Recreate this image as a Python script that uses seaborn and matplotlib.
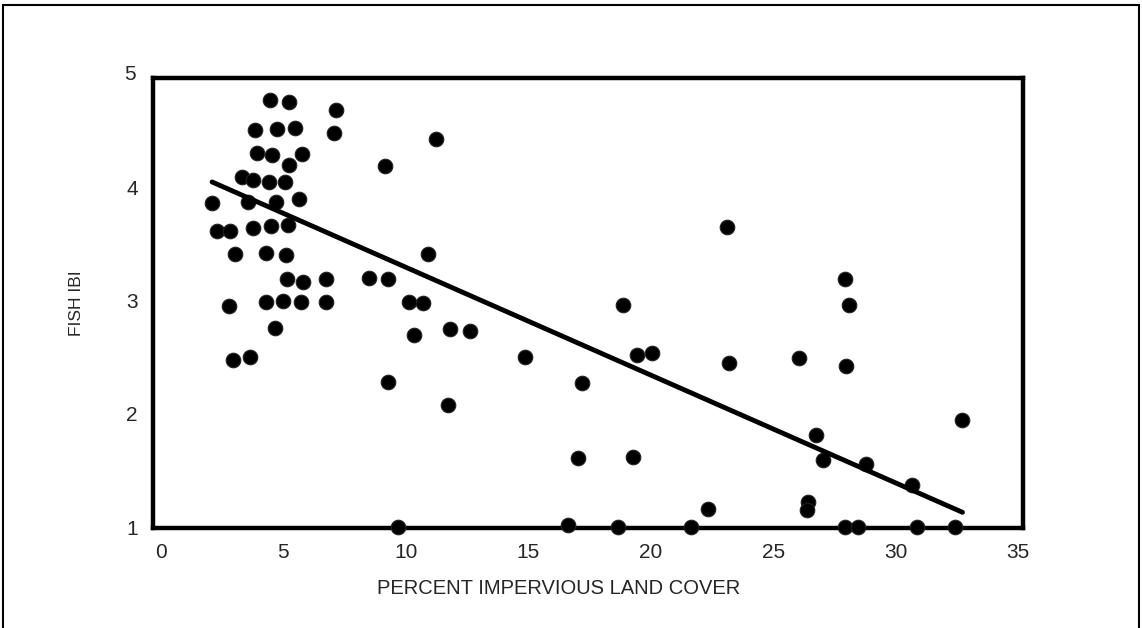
import numpy as np
import pandas as pd
import matplotlib.pyplot as plt
import seaborn as sns
from matplotlib.patches import Rectangle

# fish IBI vs percent impervious land cover
impervious = [4.46, 5.23, 7.15, 3.85, 4.74, 5.48, 7.07, 3.93, 4.54, 5.77,
              5.23, 3.32, 3.76, 4.42, 5.07, 2.09, 3.56, 4.70, 5.64, 2.29,
              2.83, 3.76, 4.50, 5.19, 3.03, 4.30, 5.11, 5.15, 5.81, 6.75,
              2.78, 4.30, 4.99, 5.72, 6.75, 4.66, 2.95, 3.64, 11.24, 9.15,
              10.91, 8.50, 9.28, 10.13, 10.71, 10.34, 11.81, 12.63, 14.87, 9.28,
              11.73, 17.20, 19.44, 20.06, 23.20, 17.04, 19.28, 22.34, 9.69, 16.63,
              18.67, 21.65, 18.87, 23.12, 27.94, 28.10, 26.06, 27.98, 32.72, 26.75,
              27.04, 28.80, 30.67, 26.43, 26.39, 27.94, 28.47, 30.88, 32.43]
fish_ibi = [4.77, 4.76, 4.69, 4.51, 4.52, 4.53, 4.48, 4.31, 4.29, 4.30,
            4.20, 4.09, 4.07, 4.05, 4.05, 3.86, 3.87, 3.87, 3.90, 3.62,
            3.62, 3.64, 3.66, 3.67, 3.41, 3.42, 3.40, 3.19, 3.17, 3.19,
            2.95, 2.99, 3.00, 2.99, 2.99, 2.76, 2.48, 2.50, 4.43, 4.19,
            3.41, 3.20, 3.19, 2.99, 2.98, 2.70, 2.75, 2.73, 2.50, 2.28,
            2.08, 2.27, 2.52, 2.54, 2.45, 1.61, 1.62, 1.16, 1.00, 1.02,
            1.00, 1.00, 2.96, 3.65, 3.19, 2.96, 2.49, 2.42, 1.95, 1.81,
            1.59, 1.56, 1.37, 1.22, 1.15, 1.00, 1.00, 1.00, 1.00]

# regression line end points
fit_x = [2.09, 32.72]
fit_y = [4.05, 1.13]

x_ticks = [0, 5, 10, 15, 20, 25, 30, 35]
y_ticks = [1, 2, 3, 4]

df = pd.DataFrame({"impervious": impervious, "ibi": fish_ibi})
fit = pd.DataFrame({"x": fit_x, "y": fit_y})

sns.set_style("white")
plt.rcParams["font.family"] = ["Liberation Sans", "DejaVu Sans"]

fig = plt.figure(figsize=(11.42, 6.28), dpi=100)
ax = fig.add_axes([0.134, 0.159, 0.762, 0.717])

sns.scatterplot(data=df, x="impervious", y="ibi", ax=ax, color="black",
                s=110, edgecolor="#222222", linewidth=0.8, zorder=3, clip_on=False)
sns.lineplot(data=fit, x="x", y="y", ax=ax, color="black", linewidth=3.5, zorder=4)

ax.set_xlim(-0.32, 35.2)
ax.set_ylim(0.99, 4.97)
ax.set_xticks(x_ticks)
ax.set_yticks(y_ticks)
ax.tick_params(length=0, labelsize=15, pad=11)
ax.text(-0.02, 5, "5", transform=ax.get_yaxis_transform(), ha="right",
        va="center", fontsize=15)

for sp in ax.spines.values():
    sp.set_visible(True)
    sp.set_color("black")
    sp.set_linewidth(3.2)

ax.set_xlabel("PERCENT IMPERVIOUS LAND COVER", fontsize=14.5)
ax.xaxis.set_label_coords(0.466, -0.114)
ax.set_ylabel("FISH IBI", fontsize=12.5)
ax.yaxis.set_label_coords(-0.079, 0.5)

fig.add_artist(Rectangle((0.003, -0.05), 0.994, 1.042, transform=fig.transFigure,
                         fill=False, lw=1.5, edgecolor="black"))

fig.savefig("out.png", dpi=100)
